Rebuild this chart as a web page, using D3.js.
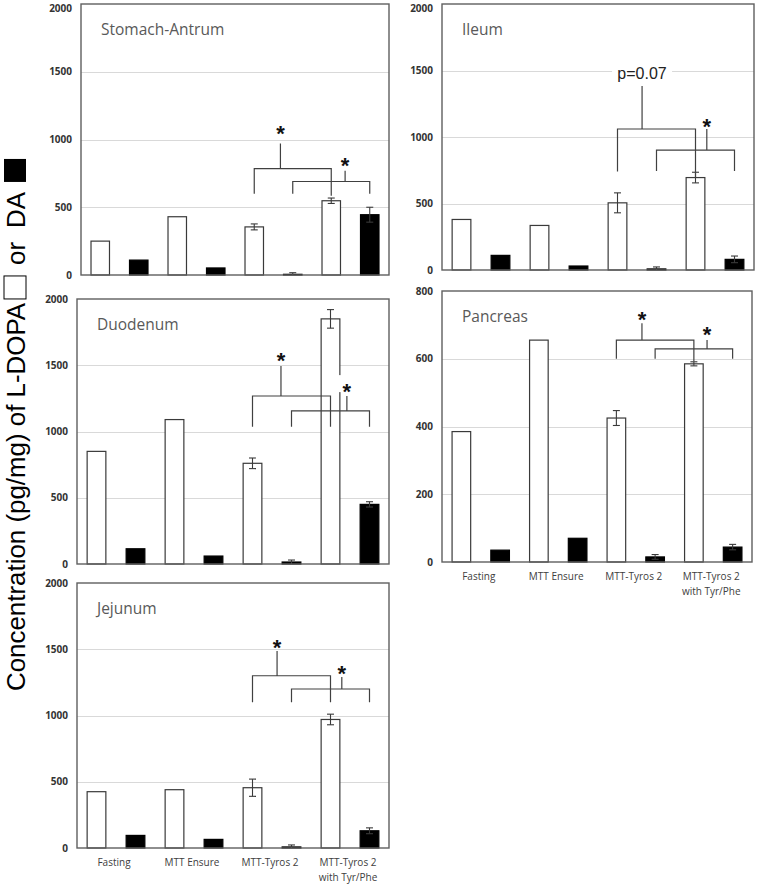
<!DOCTYPE html>
<html><head><meta charset="utf-8">
<script src="https://cdn.jsdelivr.net/npm/d3@7"></script>
<style>body{margin:0;background:#fff}svg{display:block}</style>
</head><body><svg id="c" width="757" height="884"></svg>
<script>
// ---------- data ----------
const categories = ["Fasting", "MTT Ensure", "MTT-Tyros 2", "MTT-Tyros 2|with Tyr/Phe"];
const yTicks2000 = [0, 500, 1000, 1500, 2000];
const yTicks800 = [0, 200, 400, 600, 800];

const stomachLdopa = [250, 430, 355, 548];
const stomachLdopaErr = [null, null, 22, 20];
const stomachDa = [110, 52, 5, 445];
const stomachDaErr = [null, null, 12, 55];

const ileumLdopa = [380, 335, 505, 695];
const ileumLdopaErr = [null, null, 75, 40];
const ileumDa = [110, 30, 8, 80];
const ileumDaErr = [null, null, 15, 25];

const duodenumLdopa = [850, 1090, 760, 1850];
const duodenumLdopaErr = [null, null, 40, 70];
const duodenumDa = [115, 60, 15, 450];
const duodenumDaErr = [null, null, 15, 20];

const pancreasLdopa = [385, 655, 425, 585];
const pancreasLdopaErr = [null, null, 22, 6];
const pancreasDa = [35, 70, 15, 44];
const pancreasDaErr = [null, null, 7, 8];

const jejunumLdopa = [425, 440, 455, 970];
const jejunumLdopaErr = [null, null, 65, 40];
const jejunumDa = [95, 65, 8, 130];
const jejunumDaErr = [null, null, 15, 22];

// significance brackets: [leftSlot, rightSlot, barValue, leftLegValue, rightLegValue, stemSlot, stemTopValue, label, labelValue]
const stomachSig = [[4, 6, 785, 600, 585, 4.68, 970, "*", 1075], [5, 7, 690, 600, 600, 6.36, 770, "*", 840]];
const ileumSig = [[4, 6, 1060, 740, 695, 4.63, 1384, "p=0.07", 1481], [5, 7, 902, 745, 745, 6.29, 1060, "*", 1110]];
const duodenumSig = [[4, 6, 1268, 1035, 1035, 4.73, 1495, "*", 1570], [5, 7, 1155, 1035, 1035, 6.42, 1268, "*", 1335]];
const pancreasSig = [[4, 6, 655, 600, 592, 4.66, 705, "*", 730], [5, 7, 629, 600, 600, 6.34, 655, "*", 685]];
const jejunumSig = [[4, 6, 1300, 1100, 1100, 4.63, 1487, "*", 1550], [5, 7, 1200, 1100, 1100, 6.29, 1290, "*", 1350]];

// ---------- layout ----------
const panels = [
  {title: "Stomach-Antrum", l: stomachLdopa, le: stomachLdopaErr, d: stomachDa, de: stomachDaErr, sig: stomachSig, ticks: yTicks2000, box: [81, 4, 389, 275], xl: false},
  {title: "Ileum", l: ileumLdopa, le: ileumLdopaErr, d: ileumDa, de: ileumDaErr, sig: ileumSig, ticks: yTicks2000, box: [442, 4, 754, 270], xl: false},
  {title: "Duodenum", l: duodenumLdopa, le: duodenumLdopaErr, d: duodenumDa, de: duodenumDaErr, sig: duodenumSig, ticks: yTicks2000, box: [77, 299, 389, 564], xl: false},
  {title: "Pancreas", l: pancreasLdopa, le: pancreasLdopaErr, d: pancreasDa, de: pancreasDaErr, sig: pancreasSig, ticks: yTicks800, box: [442, 291, 752, 562], xl: true},
  {title: "Jejunum", l: jejunumLdopa, le: jejunumLdopaErr, d: jejunumDa, de: jejunumDaErr, sig: jejunumSig, ticks: yTicks2000, box: [77, 583, 389, 848], xl: true}
];

const svg = d3.select("#c");
svg.append("rect").attr("width", 757).attr("height", 884).attr("fill", "#fff");

const frameCol = "#5f5f5f", barCol = "#3a3a3a", gridCol = "#d9d9d9", sigCol = "#404040";

panels.forEach(p => {
  const [x0, y0, x1, y1] = p.box;
  const g = svg.append("g");
  const slots = d3.range(8);
  const x = d3.scaleBand().domain(slots).range([x0, x1]).paddingInner(0.52).paddingOuter(0.26);
  const sx = s => x(0) + x.bandwidth() / 2 + s * x.step();
  const xg = d3.scaleBand().domain(categories).range([x0, x1]);
  const y = d3.scaleLinear().domain([0, d3.max(p.ticks)]).range([y1, y0]);

  // gridlines
  g.selectAll("line.grid").data(p.ticks.slice(1, -1)).join("line")
    .attr("x1", x0).attr("x2", x1).attr("y1", d => Math.round(y(d)) + 0.5).attr("y2", d => Math.round(y(d)) + 0.5)
    .attr("stroke", gridCol).attr("stroke-width", 1.2);

  // y axis labels
  const ax = g.append("g").attr("transform", `translate(${x0},0)`)
    .call(d3.axisLeft(y).tickValues(p.ticks).tickSize(0).tickPadding(9).tickFormat(d3.format("d")));
  ax.select(".domain").remove();
  ax.selectAll(".tick").filter(d => y(d) < 9).attr("transform", "translate(0,9)");
  ax.selectAll("text").attr("font-family", "'Open Sans', sans-serif").attr("font-weight", 700)
    .attr("font-size", 10).attr("fill", "#333");

  // bars
  const rows = [];
  categories.forEach((c, i) => {
    rows.push({slot: 2 * i, v: p.l[i], e: p.le[i], fill: "#fff"});
    rows.push({slot: 2 * i + 1, v: p.d[i], e: p.de[i], fill: "#000"});
  });
  g.selectAll("rect.bar").data(rows).join("rect")
    .attr("x", d => x(d.slot)).attr("width", x.bandwidth())
    .attr("y", d => y(d.v)).attr("height", d => y(0) - y(d.v))
    .attr("fill", d => d.fill).attr("stroke", d => d.fill === "#000" ? "#000" : barCol).attr("stroke-width", 1.2);

  // error bars
  const errs = rows.filter(d => d.e != null);
  const eg = g.selectAll("g.err").data(errs).join("g").attr("stroke", barCol).attr("stroke-width", 1.1);
  eg.append("line").attr("x1", d => sx(d.slot)).attr("x2", d => sx(d.slot))
    .attr("y1", d => y(Math.max(0, d.v - d.e))).attr("y2", d => y(d.v + d.e));
  eg.append("line").attr("x1", d => sx(d.slot) - 3.5).attr("x2", d => sx(d.slot) + 3.5)
    .attr("y1", d => y(d.v + d.e)).attr("y2", d => y(d.v + d.e));
  eg.filter(d => d.v - d.e > 0).append("line").attr("x1", d => sx(d.slot) - 3.5).attr("x2", d => sx(d.slot) + 3.5)
    .attr("y1", d => y(d.v - d.e)).attr("y2", d => y(d.v - d.e));

  // frame
  g.append("rect").attr("x", x0).attr("y", y0).attr("width", x1 - x0).attr("height", y1 - y0)
    .attr("fill", "none").attr("stroke", frameCol).attr("stroke-width", 1.4);

  // title
  g.append("text").attr("x", x0 + 20).attr("y", y0 + 31).text(p.title)
    .attr("font-family", "'Open Sans', sans-serif").attr("font-size", 15.5).attr("fill", "#595959");

  // significance brackets
  p.sig.forEach(s => {
    const [ls, rs, bv, llv, rlv, ss, stv, lab, labv] = s;
    const isStar = lab === "*";
    const lx = sx(ss), ly = y(labv);
    if (isStar) {
      g.append("rect").attr("x", lx - 8).attr("y", ly - 12).attr("width", 16).attr("height", 17).attr("fill", "#fff");
    } else {
      g.append("rect").attr("x", lx - 30).attr("y", ly - 9).attr("width", 60).attr("height", 18).attr("fill", "#fff");
    }
    g.append("path")
      .attr("d", `M${sx(ls)},${y(llv)}V${y(bv)}H${sx(rs)}V${y(rlv)}M${lx},${y(bv)}V${y(stv)}`)
      .attr("fill", "none").attr("stroke", sigCol).attr("stroke-width", 1.2);
    if (isStar) {
      g.append("text").attr("x", lx).attr("y", ly + 12).attr("text-anchor", "middle").text(lab)
        .attr("font-family", "'Liberation Sans', Arial, sans-serif").attr("font-weight", 700).attr("font-size", 22).attr("fill", "#111");
    } else {
      g.append("text").attr("x", lx).attr("y", ly + 6).attr("text-anchor", "middle").text(lab)
        .attr("font-family", "'Liberation Sans', Arial, sans-serif").attr("font-size", 16).attr("fill", "#222");
    }
  });

  // x labels
  if (p.xl) {
    const t = g.selectAll("text.xl").data(categories).join("text")
      .attr("text-anchor", "middle").attr("font-family", "'Open Sans', sans-serif").attr("font-size", 10).attr("fill", "#404040");
    t.each(function (c) {
      const lines = c.split("|");
      const el = d3.select(this);
      lines.forEach((ln, k) => {
        el.append("tspan").attr("x", xg(c) + xg.bandwidth() / 2 - 2).attr("y", y1 + 18 + k * 15).text(ln);
      });
    });
  }
});

// ---------- y axis title ----------
const yfs = 25.9;
const yl = svg.append("g").attr("transform", "translate(25,691) rotate(-90)");
const mainT = yl.append("text").attr("x", 0).attr("y", 0).text("Concentration (pg/mg) of L-DOPA")
  .attr("font-family", "'Liberation Sans', Arial, sans-serif").attr("font-size", yfs).attr("fill", "#000");
const L = mainT.node().getComputedTextLength();
yl.append("rect").attr("x", L + 4).attr("y", -21).attr("width", 23).attr("height", 22)
  .attr("fill", "#fff").attr("stroke", "#000").attr("stroke-width", 1);
yl.append("text").attr("x", L + 38).attr("y", 0).text("or")
  .attr("font-family", "'Liberation Sans', Arial, sans-serif").attr("font-size", yfs).attr("fill", "#000");
yl.append("text").attr("x", L + 75).attr("y", 0).text("DA")
  .attr("font-family", "'Liberation Sans', Arial, sans-serif").attr("font-size", yfs).attr("fill", "#000");
yl.append("rect").attr("x", L + 121).attr("y", -21).attr("width", 23).attr("height", 22).attr("fill", "#000");
</script></body></html>
